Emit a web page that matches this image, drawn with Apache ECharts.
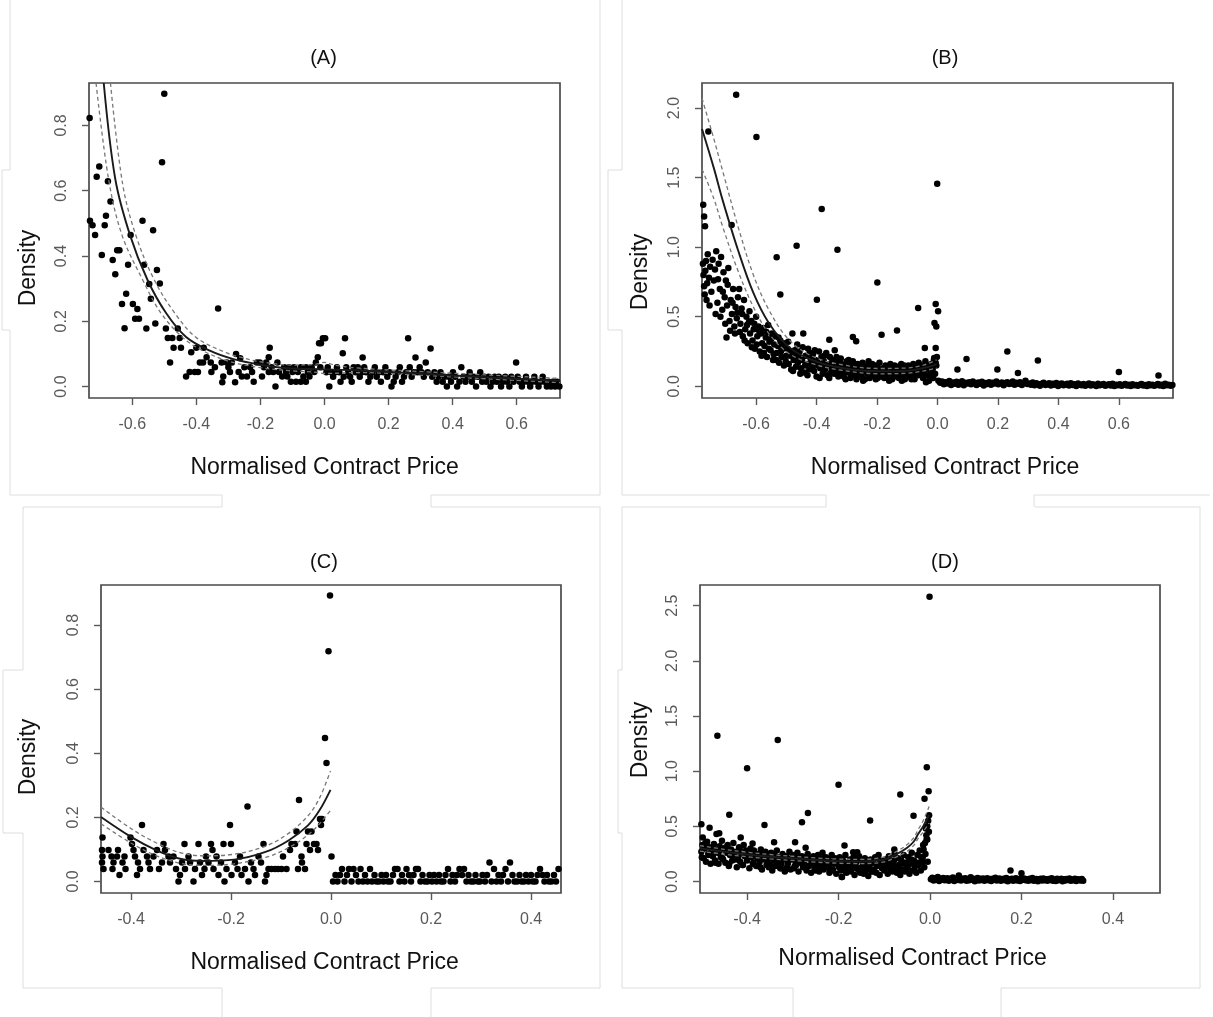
<!DOCTYPE html>
<html>
<head>
<meta charset="utf-8">
<title>Density vs Normalised Contract Price</title>
<script src="https://cdn.jsdelivr.net/npm/echarts@6/dist/echarts.min.js"></script>
<style>
  html, body { margin: 0; padding: 0; background: #ffffff; }
  #chart { width: 1213px; height: 1017px; }
</style>
</head>
<body>
<div id="chart"></div>
<script>
// ---------- tick values ----------
const xTicksAB = [-0.6, -0.4, -0.2, 0.0, 0.2, 0.4, 0.6];
const xTicksCD = [-0.4, -0.2, 0.0, 0.2, 0.4];
const yTicksA = [0.0, 0.2, 0.4, 0.6, 0.8];
const yTicksB = [0.0, 0.5, 1.0, 1.5, 2.0];
const yTicksC = [0.0, 0.2, 0.4, 0.6, 0.8];
const yTicksD = [0.0, 0.5, 1.0, 1.5, 2.0, 2.5];
const panelTitles = ['(A)', '(B)', '(C)', '(D)'];

// ---------- panel A: observed densities ----------
const scatterA = [
  [-0.733,0.823],[-0.500,0.897],[-0.507,0.687],[-0.703,0.674],[-0.711,0.643],[-0.676,0.629],[-0.668,0.567],
  [-0.732,0.508],[-0.724,0.494],[-0.716,0.464],[-0.686,0.494],[-0.682,0.523],[-0.695,0.403],[-0.647,0.418],
  [-0.640,0.418],[-0.661,0.388],[-0.653,0.344],[-0.605,0.464],[-0.613,0.373],[-0.568,0.508],[-0.535,0.479],
  [-0.563,0.373],[-0.523,0.357],[-0.547,0.314],[-0.514,0.316],[-0.542,0.269],[-0.619,0.284],[-0.632,0.253],
  [-0.598,0.253],[-0.584,0.238],[-0.591,0.208],[-0.579,0.208],[-0.624,0.179],[-0.556,0.178],[-0.528,0.193],
  [-0.495,0.178],[-0.489,0.149],[-0.475,0.149],[-0.452,0.149],[-0.458,0.178],[-0.471,0.119],[-0.448,0.119],
  [-0.482,0.074],[-0.416,0.105],[-0.400,0.119],[-0.377,0.119],[-0.332,0.239],[-0.389,0.074],[-0.379,0.074],
  [-0.368,0.090],[-0.432,0.031],[-0.421,0.045],[-0.405,0.045],[-0.395,0.045],[-0.353,0.045],[-0.342,0.059],
  [-0.355,0.074],[-0.321,0.074],[-0.305,0.074],[-0.289,0.074],[-0.276,0.100],[-0.263,0.087],[-0.316,0.031],
  [-0.319,0.013],[-0.279,0.013],[-0.258,0.031],[-0.242,0.031],[-0.221,0.015],[-0.232,0.059],[-0.211,0.074],
  [-0.202,0.074],[-0.189,0.059],[-0.171,0.119],[-0.174,0.090],[-0.195,0.031],[-0.174,0.045],[-0.153,0.000],
  [-0.142,0.045],[-0.126,0.059],[-0.111,0.059],[-0.095,0.059],[-0.074,0.059],[-0.058,0.059],[-0.132,0.031],
  [-0.116,0.031],[-0.105,0.015],[-0.089,0.015],[-0.074,0.015],[-0.058,0.015],[-0.047,0.031],[-0.021,0.090],
  [-0.017,0.133],[-0.011,0.133],[-0.005,0.148],[0.002,0.148],[-0.032,0.045],
  [-0.300,0.059],[-0.295,0.045],[-0.268,0.045],[-0.250,0.059],[-0.226,0.045],[-0.182,0.074],[-0.165,0.059],
  [-0.160,0.045],[-0.147,0.074],[-0.120,0.045],[-0.100,0.045],[-0.083,0.045],[-0.066,0.031],[-0.052,0.045],
  [-0.040,0.059],[-0.027,0.074],[-0.013,0.059],
  [0.006,0.044],[0.010,0.059],[0.015,0.000],[0.021,0.044],[0.027,0.030],[0.033,0.044],[0.039,0.059],
  [0.046,0.044],[0.050,0.015],[0.057,0.102],[0.064,0.148],[0.060,0.030],[0.068,0.059],[0.074,0.044],
  [0.080,0.030],[0.085,0.015],[0.091,0.059],[0.097,0.044],[0.104,0.059],[0.110,0.030],[0.119,0.089],
  [0.116,0.044],[0.124,0.059],[0.130,0.044],[0.137,0.015],[0.143,0.030],[0.150,0.044],[0.157,0.059],
  [0.163,0.030],[0.170,0.044],[0.176,0.015],[0.183,0.044],[0.190,0.059],[0.196,0.030],[0.203,0.044],
  [0.209,0.000],[0.216,0.015],[0.222,0.030],[0.229,0.044],[0.235,0.059],[0.242,0.015],[0.248,0.030],
  [0.255,0.044],[0.261,0.148],[0.266,0.059],[0.272,0.030],[0.279,0.044],[0.284,0.089],[0.290,0.044],
  [0.297,0.059],[0.303,0.044],[0.310,0.030],[0.316,0.074],[0.322,0.044],[0.331,0.117],[0.336,0.030],
  [0.343,0.044],[0.350,0.015],[0.356,0.030],[0.362,0.044],[0.369,0.015],[0.375,0.030],[0.382,0.000],
  [0.388,0.030],[0.395,0.015],[0.401,0.044],[0.408,0.030],[0.414,0.000],[0.421,0.015],[0.427,0.059],
  [0.434,0.030],[0.440,0.015],[0.447,0.030],[0.453,0.044],[0.460,0.015],[0.466,0.030],[0.473,0.000],
  [0.479,0.030],[0.486,0.044],[0.492,0.015],[0.499,0.030],[0.505,0.015],[0.512,0.030],[0.518,0.000],
  [0.525,0.015],[0.531,0.030],[0.538,0.015],[0.544,0.030],[0.551,0.000],[0.557,0.015],[0.564,0.030],
  [0.570,0.015],[0.577,0.000],[0.583,0.030],[0.590,0.015],[0.598,0.074],[0.603,0.030],[0.609,0.015],
  [0.616,0.000],[0.622,0.015],[0.629,0.030],[0.635,0.015],[0.642,0.000],[0.648,0.015],[0.655,0.030],
  [0.661,0.015],[0.668,0.000],[0.674,0.015],[0.681,0.030],[0.687,0.015],[0.694,0.000],[0.700,0.015],
  [0.707,0.000],[0.713,0.015],[0.720,0.000],[0.726,0.015],[0.733,0.000]
];
const fitA = [[-0.689,0.93],[-0.653,0.636],[-0.607,0.464],[-0.553,0.328],[-0.495,0.226],[-0.432,0.152],
  [-0.358,0.110],[-0.284,0.084],[-0.200,0.067],[-0.116,0.056],[-0.011,0.053],[0.100,0.050],[0.200,0.045],
  [0.300,0.040],[0.400,0.034],[0.500,0.029],[0.600,0.024],[0.735,0.018]];
const upperA = [[-0.668,0.93],[-0.630,0.620],[-0.589,0.464],[-0.532,0.328],[-0.468,0.226],[-0.400,0.150],
  [-0.305,0.103],[-0.263,0.090],[-0.200,0.076],[-0.100,0.066],[-0.030,0.068],[0.000,0.074],[0.030,0.066],
  [0.100,0.057],[0.300,0.046],[0.500,0.036],[0.735,0.025]];
const lowerA = [[-0.713,0.93],[-0.674,0.636],[-0.632,0.464],[-0.568,0.328],[-0.511,0.226],[-0.442,0.150],
  [-0.380,0.110],[-0.300,0.078],[-0.200,0.058],[-0.100,0.048],[-0.030,0.044],[0.000,0.040],[0.100,0.043],
  [0.300,0.035],[0.500,0.024],[0.735,0.012]];

// ---------- panel B ----------
const scatterB = [
  [-0.666,2.096],[-0.599,1.792],[-0.001,1.456],[-0.383,1.274],[-0.466,1.011],[-0.331,0.982],[-0.532,0.927],
  [-0.199,0.747],[-0.520,0.659],[-0.399,0.623],[-0.064,0.563],[-0.006,0.592],[0.002,0.540],[-0.010,0.455],
  [-0.004,0.430],[-0.006,0.275],[-0.042,0.275],[-0.280,0.354],[-0.269,0.323],[-0.185,0.371],[-0.134,0.402],
  [-0.358,0.335],[-0.758,1.832],[-0.775,1.305],[-0.772,1.220],[-0.769,1.150],[-0.681,1.160],[-0.011,0.203],
  [0.066,0.120],[0.096,0.197],[0.198,0.120],[0.231,0.251],[0.266,0.096],[0.332,0.185],[0.600,0.103],[0.731,0.077],
  [-0.776,0.88],[-0.772,0.72],[-0.768,0.83],[-0.764,0.62],[-0.760,0.95],[-0.756,0.78],[-0.752,0.86],[-0.748,0.68],[-0.744,0.91],[-0.740,0.76],
  [-0.774,0.80],[-0.770,0.66],[-0.762,0.74],[-0.754,0.58],[-0.766,0.90],
  [-0.736,0.84],[-0.732,0.97],[-0.728,0.60],[-0.724,0.88],[-0.720,0.70],[-0.716,0.93],[-0.712,0.55],[-0.708,0.82],[-0.704,0.64],[-0.700,0.76],
  [-0.734,0.52],[-0.726,0.77],[-0.718,0.50],[-0.710,0.68],[-0.702,0.45],
  [-0.698,0.35],[-0.696,0.58],[-0.692,0.85],[-0.688,0.47],[-0.684,0.62],[-0.680,0.52],[-0.676,0.70],[-0.672,0.43],[-0.668,0.57],[-0.664,0.49],[-0.660,0.64],
  [-0.694,0.73],[-0.686,0.40],[-0.678,0.60],[-0.670,0.38],[-0.662,0.53],
  [-0.656,0.70],[-0.652,0.45],[-0.648,0.56],[-0.644,0.36],[-0.640,0.62],[-0.636,0.41],[-0.632,0.50],[-0.628,0.31],[-0.624,0.46],[-0.620,0.38],
  [-0.654,0.39],[-0.646,0.52],[-0.638,0.33],[-0.630,0.44],[-0.622,0.54],
  [-0.616,0.47],[-0.612,0.33],[-0.608,0.41],[-0.604,0.27],[-0.600,0.50],[-0.596,0.36],[-0.592,0.43],[-0.588,0.25],[-0.584,0.38],[-0.580,0.31],
  [-0.614,0.28],[-0.606,0.45],[-0.598,0.30],[-0.590,0.40],[-0.582,0.22],
  [-0.576,0.42],[-0.572,0.29],[-0.568,0.35],[-0.564,0.21],[-0.560,0.44],[-0.556,0.32],[-0.552,0.26],[-0.548,0.38],[-0.544,0.19],[-0.540,0.30],
  [-0.574,0.24],[-0.566,0.39],[-0.558,0.27],[-0.550,0.34],[-0.542,0.23],
  [-0.536,0.36],[-0.532,0.24],[-0.528,0.29],[-0.524,0.17],[-0.520,0.33],[-0.516,0.21],[-0.512,0.27],[-0.508,0.15],[-0.504,0.31],[-0.500,0.22],
  [-0.534,0.19],[-0.526,0.35],[-0.518,0.25],[-0.510,0.30],[-0.502,0.18],
  [-0.496,0.27],[-0.492,0.16],[-0.488,0.22],[-0.484,0.12],[-0.480,0.38],[-0.476,0.19],[-0.472,0.26],[-0.468,0.14],[-0.464,0.30],[-0.460,0.21],
  [-0.494,0.32],[-0.486,0.25],[-0.478,0.11],[-0.470,0.23],[-0.462,0.17],
  [-0.456,0.25],[-0.452,0.13],[-0.448,0.19],[-0.444,0.38],[-0.440,0.10],[-0.436,0.22],[-0.432,0.16],[-0.428,0.27],[-0.424,0.12],[-0.420,0.20],
  [-0.454,0.09],[-0.446,0.28],[-0.438,0.15],[-0.430,0.08],[-0.422,0.24],
  [-0.416,0.17],[-0.412,0.23],[-0.408,0.11],[-0.404,0.19],[-0.400,0.07],[-0.396,0.15],[-0.392,0.25],[-0.388,0.13],[-0.384,0.21],[-0.380,0.09],
  [-0.414,0.14],[-0.406,0.26],[-0.398,0.18],[-0.390,0.06],[-0.382,0.16],
  [-0.376,0.18],[-0.372,0.12],[-0.368,0.24],[-0.364,0.08],[-0.360,0.16],[-0.356,0.21],[-0.352,0.10],[-0.348,0.19],[-0.344,0.14],[-0.340,0.26],
  [-0.374,0.22],[-0.366,0.15],[-0.358,0.06],[-0.350,0.13],[-0.342,0.09],
  [-0.336,0.11],[-0.332,0.17],[-0.328,0.07],[-0.324,0.14],[-0.320,0.20],[-0.316,0.09],[-0.312,0.15],[-0.308,0.12],[-0.304,0.05],[-0.300,0.18],
  [-0.334,0.21],[-0.326,0.10],[-0.318,0.16],[-0.310,0.07],[-0.302,0.13],
  [-0.296,0.10],[-0.292,0.15],[-0.288,0.06],[-0.284,0.12],[-0.280,0.18],[-0.276,0.08],[-0.272,0.13],[-0.268,0.05],[-0.264,0.16],[-0.260,0.10],
  [-0.294,0.19],[-0.286,0.09],[-0.278,0.14],[-0.270,0.11],[-0.262,0.07],
  [-0.256,0.13],[-0.252,0.07],[-0.248,0.17],[-0.244,0.10],[-0.240,0.05],[-0.236,0.14],[-0.232,0.09],[-0.228,0.18],[-0.224,0.06],[-0.220,0.12],
  [-0.254,0.10],[-0.246,0.04],[-0.238,0.11],[-0.230,0.15],[-0.222,0.08],
  [-0.216,0.16],[-0.212,0.08],[-0.208,0.12],[-0.204,0.05],[-0.200,0.14],[-0.196,0.10],[-0.192,0.17],[-0.188,0.07],[-0.184,0.11],[-0.180,0.13],
  [-0.214,0.10],[-0.206,0.15],[-0.198,0.06],[-0.190,0.12],[-0.182,0.09],
  [-0.176,0.06],[-0.172,0.15],[-0.168,0.10],[-0.164,0.12],[-0.160,0.04],[-0.156,0.16],[-0.152,0.09],[-0.148,0.13],[-0.144,0.07],[-0.140,0.11],
  [-0.174,0.11],[-0.166,0.08],[-0.158,0.14],[-0.150,0.05],[-0.142,0.15],
  [-0.136,0.09],[-0.132,0.14],[-0.128,0.06],[-0.124,0.12],[-0.120,0.16],[-0.116,0.08],[-0.112,0.11],[-0.108,0.05],[-0.104,0.13],[-0.100,0.10],
  [-0.134,0.12],[-0.126,0.10],[-0.118,0.04],[-0.110,0.15],[-0.102,0.07],
  [-0.096,0.15],[-0.092,0.07],[-0.088,0.12],[-0.084,0.09],[-0.080,0.16],[-0.076,0.05],[-0.072,0.11],[-0.068,0.13],[-0.064,0.08],[-0.060,0.14],
  [-0.094,0.10],[-0.086,0.05],[-0.078,0.12],[-0.070,0.09],[-0.062,0.17],
  [-0.056,0.10],[-0.052,0.15],[-0.048,0.06],[-0.044,0.12],[-0.040,0.18],[-0.036,0.08],[-0.032,0.13],[-0.028,0.04],[-0.024,0.11],[-0.020,0.16],
  [-0.054,0.13],[-0.046,0.09],[-0.038,0.03],[-0.030,0.15],[-0.022,0.07],
  [-0.016,0.12],[-0.012,0.19],[-0.008,0.09],[-0.004,0.15],[-0.002,0.21],[-0.014,0.06],[-0.006,0.17],
  [0.003,0.040],[0.009,0.025],[0.015,0.035],[0.021,0.015],[0.027,0.030],[0.033,0.020],[0.039,0.038],[0.045,0.010],[0.051,0.028],[0.057,0.018],
  [0.063,0.032],[0.069,0.012],[0.075,0.024],[0.081,0.036],[0.087,0.008],[0.093,0.026],[0.099,0.020],[0.105,0.030],[0.111,0.014],[0.117,0.034],
  [0.123,0.022],[0.129,0.010],[0.135,0.028],[0.141,0.018],[0.147,0.032],[0.153,0.006],[0.159,0.024],[0.165,0.016],[0.171,0.030],[0.177,0.012],
  [0.183,0.026],[0.189,0.020],[0.195,0.035],[0.201,0.014],[0.207,0.022],[0.213,0.028],[0.219,0.008],[0.225,0.024],[0.231,0.030],[0.237,0.016],
  [0.243,0.020],[0.249,0.034],[0.255,0.012],[0.261,0.026],[0.267,0.018],[0.273,0.030],[0.279,0.010],[0.285,0.024],[0.291,0.040],[0.297,0.016],
  [0.303,0.020],[0.309,0.012],[0.315,0.028],[0.321,0.008],[0.327,0.022],[0.333,0.015],[0.339,0.004],[0.345,0.018],[0.351,0.026],[0.357,0.010],
  [0.363,0.014],[0.369,0.022],[0.375,0.006],[0.381,0.018],[0.387,0.012],[0.393,0.024],[0.399,0.002],[0.405,0.016],[0.411,0.020],[0.417,0.008],
  [0.423,0.012],[0.429,0.018],[0.435,0.005],[0.441,0.022],[0.447,0.010],[0.453,0.015],[0.459,0.003],[0.465,0.020],[0.471,0.012],[0.477,0.008],
  [0.483,0.016],[0.489,0.004],[0.495,0.012],[0.501,0.020],[0.507,0.006],[0.513,0.014],[0.519,0.010],[0.525,0.002],[0.531,0.018],[0.537,0.008],
  [0.543,0.012],[0.549,0.016],[0.555,0.004],[0.561,0.010],[0.567,0.014],[0.573,0.006],[0.579,0.018],[0.585,0.002],[0.591,0.012],[0.597,0.008],
  [0.603,0.014],[0.609,0.004],[0.615,0.010],[0.621,0.016],[0.627,0.006],[0.633,0.012],[0.639,0.002],[0.645,0.014],[0.651,0.008],[0.657,0.010],
  [0.663,0.004],[0.669,0.012],[0.675,0.016],[0.681,0.006],[0.687,0.010],[0.693,0.002],[0.699,0.014],[0.705,0.008],[0.711,0.012],[0.717,0.004],
  [0.723,0.010],[0.729,0.016],[0.735,0.006],[0.741,0.012],[0.747,0.002],[0.753,0.018],[0.759,0.008],[0.765,0.012],[0.771,0.004],[0.777,0.010]
];
const fitB = [[-0.779,1.85],[-0.740,1.57],[-0.711,1.34],[-0.660,0.98],[-0.609,0.671],[-0.558,0.455],[-0.494,0.287],
  [-0.418,0.192],[-0.316,0.132],[-0.189,0.108],[-0.100,0.112],[-0.061,0.125],[-0.030,0.140],[-0.003,0.160]];
const upperB = [[-0.779,2.07],[-0.740,1.78],[-0.711,1.55],[-0.660,1.15],[-0.609,0.80],[-0.558,0.55],[-0.494,0.34],
  [-0.418,0.22],[-0.316,0.155],[-0.189,0.128],[-0.100,0.132],[-0.061,0.145],[-0.030,0.165],[-0.003,0.190]];
const lowerB = [[-0.779,1.56],[-0.740,1.35],[-0.711,1.15],[-0.660,0.83],[-0.609,0.57],[-0.558,0.38],[-0.494,0.24],
  [-0.418,0.165],[-0.316,0.115],[-0.189,0.090],[-0.100,0.094],[-0.061,0.105],[-0.030,0.118],[-0.003,0.132]];

// ---------- panel C ----------
const scatterC = [
  [-0.457,0.137],[-0.458,0.098],[-0.457,0.078],[-0.458,0.059],[-0.455,0.039],
  [-0.445,0.098],[-0.439,0.078],[-0.435,0.059],[-0.437,0.039],[-0.426,0.098],[-0.428,0.078],[-0.423,0.020],
  [-0.417,0.059],[-0.413,0.078],[-0.411,0.039],
  [-0.401,0.137],[-0.398,0.117],[-0.395,0.098],[-0.392,0.078],[-0.388,0.020],[-0.386,0.059],[-0.382,0.039],
  [-0.378,0.176],[-0.375,0.098],
  [-0.368,0.078],[-0.365,0.059],[-0.362,0.039],[-0.355,0.078],[-0.348,0.098],[-0.344,0.039],[-0.338,0.059],
  [-0.335,0.117],[-0.332,0.098],
  [-0.325,0.078],[-0.322,0.059],[-0.315,0.078],[-0.310,0.039],[-0.305,0.000],[-0.302,0.020],[-0.298,0.059],
  [-0.293,0.117],[-0.292,0.039],
  [-0.285,0.078],[-0.282,0.059],[-0.275,0.000],[-0.272,0.039],[-0.265,0.117],[-0.262,0.059],[-0.258,0.020],
  [-0.253,0.039],[-0.250,0.078],[-0.245,0.059],
  [-0.240,0.117],[-0.237,0.098],[-0.235,0.039],[-0.229,0.078],[-0.225,0.020],[-0.220,0.059],[-0.215,0.117],
  [-0.213,0.000],[-0.209,0.039],[-0.202,0.176],[-0.200,0.117],[-0.199,0.020],
  [-0.192,0.059],[-0.187,0.039],[-0.182,0.078],[-0.179,0.020],[-0.172,0.039],[-0.167,0.234],[-0.165,0.000],
  [-0.160,0.059],[-0.155,0.039],[-0.152,0.020],
  [-0.145,0.078],[-0.140,0.059],[-0.135,0.117],[-0.132,0.000],[-0.129,0.020],[-0.125,0.039],[-0.119,0.039],
  [-0.112,0.039],[-0.106,0.039],
  [-0.099,0.039],[-0.096,0.078],[-0.089,0.039],[-0.082,0.098],[-0.079,0.117],[-0.072,0.117],[-0.069,0.156],
  [-0.064,0.254],[-0.066,0.039],[-0.059,0.078],[-0.058,0.059],[-0.052,0.039],
  [-0.049,0.117],[-0.046,0.156],[-0.042,0.098],[-0.039,0.156],[-0.034,0.117],[-0.029,0.117],[-0.026,0.098],
  [-0.022,0.195],[-0.020,0.176],[-0.018,0.195],
  [-0.012,0.448],[-0.009,0.370],[-0.005,0.718],[-0.002,0.892],[0.001,0.078],
  [0.004,0.000],[0.009,0.020],[0.013,0.000],[0.018,0.020],[0.022,0.039],[0.027,0.000],[0.032,0.020],[0.036,0.039],
  [0.041,0.000],[0.045,0.039],[0.050,0.020],[0.055,0.000],[0.059,0.039],[0.064,0.000],[0.068,0.020],[0.073,0.000],
  [0.078,0.039],[0.082,0.000],[0.087,0.020],[0.091,0.000],[0.096,0.000],[0.101,0.020],[0.105,0.000],[0.110,0.020],
  [0.114,0.000],[0.119,0.000],[0.124,0.020],[0.128,0.039],[0.133,0.039],[0.137,0.000],[0.142,0.020],[0.147,0.000],
  [0.151,0.039],[0.156,0.020],[0.160,0.000],[0.165,0.020],[0.170,0.039],[0.174,0.039],[0.179,0.000],[0.183,0.020],
  [0.188,0.000],[0.193,0.000],[0.197,0.020],[0.202,0.000],[0.206,0.020],[0.211,0.000],[0.216,0.020],[0.220,0.000],
  [0.225,0.000],[0.229,0.020],[0.234,0.039],[0.239,0.000],[0.243,0.020],[0.248,0.000],[0.252,0.020],[0.257,0.039],
  [0.262,0.020],[0.266,0.039],[0.271,0.000],[0.275,0.020],[0.280,0.000],[0.285,0.000],[0.289,0.020],[0.294,0.000],
  [0.298,0.000],[0.303,0.020],[0.308,0.000],[0.312,0.020],[0.317,0.059],[0.321,0.000],[0.326,0.039],[0.331,0.000],
  [0.335,0.020],[0.340,0.000],[0.344,0.020],[0.349,0.039],[0.354,0.000],[0.358,0.059],[0.363,0.020],[0.367,0.000],
  [0.372,0.000],[0.377,0.020],[0.381,0.000],[0.386,0.000],[0.390,0.020],[0.395,0.000],[0.400,0.020],[0.404,0.000],
  [0.409,0.000],[0.413,0.020],[0.418,0.039],[0.423,0.020],[0.427,0.000],[0.432,0.020],[0.436,0.000],[0.441,0.000],
  [0.446,0.020],[0.450,0.000],[0.455,0.039]
];
const fitC = [[-0.46,0.201],[-0.40,0.139],[-0.349,0.097],[-0.302,0.071],[-0.256,0.064],[-0.194,0.068],
  [-0.131,0.092],[-0.085,0.128],[-0.046,0.175],[-0.023,0.222],[-0.001,0.286]];
const upperC = [[-0.46,0.232],[-0.40,0.165],[-0.349,0.120],[-0.302,0.090],[-0.256,0.080],[-0.194,0.085],
  [-0.131,0.110],[-0.085,0.150],[-0.046,0.205],[-0.023,0.260],[-0.001,0.345]];
const lowerC = [[-0.46,0.180],[-0.40,0.120],[-0.349,0.080],[-0.302,0.057],[-0.256,0.050],[-0.194,0.055],
  [-0.131,0.075],[-0.085,0.105],[-0.046,0.145],[-0.023,0.180],[-0.001,0.222]];

// ---------- panel D ----------
const scatterD = [
  [-0.001,2.580],[-0.465,1.322],[-0.333,1.283],[-0.400,1.027],[-0.007,1.036],[-0.200,0.877],[-0.065,0.788],
  [-0.003,0.818],[-0.012,0.749],[-0.439,0.604],[-0.267,0.620],[-0.280,0.537],[-0.362,0.513],[-0.131,0.553],
  [-0.036,0.595],[-0.002,0.600],[-0.500,0.519],[-0.482,0.487],[-0.467,0.431],[-0.461,0.437],[-0.414,0.400],
  [-0.388,0.345],[-0.341,0.356],[-0.295,0.356],[-0.272,0.305],[-0.187,0.326],[-0.168,0.266],[-0.159,0.266],
  [-0.078,0.290],[-0.193,0.040],[-0.497,0.400],[-0.009,0.480],[-0.006,0.380],[-0.016,0.220],[-0.016,0.175],
  [0.176,0.100],[0.200,0.075],[0.063,0.054],
  [-0.5,0.27],[-0.4975,0.33],[-0.495,0.21],[-0.4925,0.30],[-0.49,0.18],[-0.4875,0.36],[-0.485,0.25],[-0.4825,0.31],[-0.48,0.16],[-0.4775,0.28],
  [-0.475,0.23],[-0.4725,0.34],[-0.47,0.19],[-0.4675,0.29],[-0.465,0.26],[-0.4625,0.16],[-0.46,0.32],[-0.4575,0.22],[-0.455,0.37],[-0.4525,0.20],
  [-0.45,0.30],[-0.4475,0.17],[-0.445,0.26],[-0.4425,0.33],[-0.44,0.14],[-0.4375,0.24],[-0.435,0.29],[-0.4325,0.19],[-0.43,0.35],[-0.4275,0.22],
  [-0.425,0.27],[-0.4225,0.13],[-0.42,0.21],[-0.4175,0.31],[-0.415,0.18],[-0.4125,0.25],[-0.41,0.15],[-0.4075,0.33],[-0.405,0.23],[-0.4025,0.28],
  [-0.4,0.19],[-0.3975,0.26],[-0.395,0.12],[-0.3925,0.30],[-0.39,0.22],[-0.3875,0.16],[-0.385,0.28],[-0.3825,0.24],[-0.38,0.14],[-0.3775,0.21],
  [-0.375,0.25],[-0.3725,0.18],[-0.37,0.29],[-0.3675,0.11],[-0.365,0.23],[-0.3625,0.20],[-0.36,0.27],[-0.3575,0.15],[-0.355,0.22],[-0.3525,0.13],
  [-0.35,0.21],[-0.3475,0.26],[-0.345,0.10],[-0.3425,0.19],[-0.34,0.24],[-0.3375,0.14],[-0.335,0.28],[-0.3325,0.17],[-0.33,0.22],[-0.3275,0.12],
  [-0.325,0.16],[-0.3225,0.25],[-0.32,0.20],[-0.3175,0.09],[-0.315,0.23],[-0.3125,0.13],[-0.31,0.18],[-0.3075,0.27],[-0.305,0.11],[-0.3025,0.21],
  [-0.3,0.24],[-0.2975,0.12],[-0.295,0.19],[-0.2925,0.15],[-0.29,0.26],[-0.2875,0.09],[-0.285,0.21],[-0.2825,0.17],[-0.28,0.23],[-0.2775,0.13],
  [-0.275,0.18],[-0.2725,0.22],[-0.27,0.10],[-0.2675,0.25],[-0.265,0.14],[-0.2625,0.20],[-0.26,0.08],[-0.2575,0.16],[-0.255,0.23],[-0.2525,0.12],
  [-0.25,0.19],[-0.2475,0.14],[-0.245,0.24],[-0.2425,0.09],[-0.24,0.21],[-0.2375,0.17],[-0.235,0.26],[-0.2325,0.11],[-0.23,0.15],[-0.2275,0.22],
  [-0.225,0.13],[-0.2225,0.20],[-0.22,0.08],[-0.2175,0.18],[-0.215,0.24],[-0.2125,0.11],[-0.21,0.16],[-0.2075,0.21],[-0.205,0.07],[-0.2025,0.19],
  [-0.2,0.15],[-0.1975,0.22],[-0.195,0.10],[-0.1925,0.04],[-0.19,0.18],[-0.1875,0.13],[-0.185,0.24],[-0.1825,0.08],[-0.18,0.17],[-0.1775,0.12],
  [-0.175,0.20],[-0.1725,0.09],[-0.17,0.16],[-0.1675,0.22],[-0.165,0.06],[-0.1625,0.14],[-0.16,0.19],[-0.1575,0.11],[-0.155,0.23],[-0.1525,0.08],
  [-0.15,0.13],[-0.1475,0.18],[-0.145,0.07],[-0.1425,0.21],[-0.14,0.10],[-0.1375,0.16],[-0.135,0.05],[-0.1325,0.14],[-0.13,0.20],[-0.1275,0.09],
  [-0.125,0.17],[-0.1225,0.11],[-0.12,0.22],[-0.1175,0.08],[-0.115,0.15],[-0.1125,0.24],[-0.11,0.06],[-0.1075,0.19],[-0.105,0.12],[-0.1025,0.16],
  [-0.1,0.10],[-0.0975,0.20],[-0.095,0.14],[-0.0925,0.07],[-0.09,0.23],[-0.0875,0.12],[-0.085,0.18],[-0.0825,0.09],[-0.08,0.16],[-0.0775,0.25],
  [-0.075,0.13],[-0.0725,0.08],[-0.07,0.21],[-0.0675,0.15],[-0.065,0.06],[-0.0625,0.19],[-0.06,0.11],[-0.0575,0.24],[-0.055,0.09],[-0.0525,0.17],
  [-0.05,0.12],[-0.0475,0.22],[-0.045,0.07],[-0.0425,0.16],[-0.04,0.26],[-0.0375,0.10],[-0.035,0.19],[-0.0325,0.14],[-0.03,0.08],[-0.0275,0.24],
  [-0.025,0.15],[-0.0225,0.28],[-0.02,0.10],[-0.0175,0.21],[-0.015,0.33],[-0.0125,0.13],[-0.01,0.25],[-0.0075,0.38],[-0.005,0.18],[-0.0025,0.45],
  [-0.499,0.22],[-0.491,0.35],[-0.484,0.24],[-0.476,0.29],[-0.469,0.17],[-0.461,0.27],[-0.454,0.21],[-0.446,0.31],
  [-0.439,0.16],[-0.431,0.25],[-0.424,0.20],[-0.416,0.29],[-0.409,0.15],[-0.401,0.24],[-0.394,0.27],[-0.386,0.17],
  [-0.379,0.23],[-0.371,0.13],[-0.364,0.26],[-0.356,0.19],[-0.349,0.15],[-0.341,0.23],[-0.334,0.18],[-0.326,0.12],
  [-0.319,0.22],[-0.311,0.16],[-0.304,0.20],[-0.296,0.14],[-0.289,0.22],[-0.281,0.17],[-0.274,0.13],[-0.266,0.21],
  [-0.259,0.16],[-0.251,0.10],[-0.244,0.18],[-0.236,0.13],[-0.229,0.21],[-0.221,0.15],[-0.214,0.10],[-0.206,0.17],
  [-0.199,0.13],[-0.191,0.20],[-0.184,0.09],[-0.176,0.15],[-0.169,0.12],[-0.161,0.18],[-0.154,0.10],[-0.146,0.15],
  [-0.139,0.12],[-0.131,0.19],[-0.124,0.09],[-0.116,0.14],[-0.109,0.18],[-0.101,0.12],[-0.094,0.15],[-0.086,0.11],
  [-0.079,0.19],[-0.071,0.13],[-0.064,0.10],[-0.056,0.16],[-0.049,0.13],[-0.041,0.20],[-0.034,0.11],[-0.026,0.17],
  [-0.019,0.22],[-0.014,0.29],[-0.011,0.35],[-0.008,0.42],[-0.006,0.50],[-0.004,0.55],
  [0.002,0.020],[0.005,0.035],[0.008,0.010],[0.011,0.028],[0.014,0.015],[0.017,0.040],[0.020,0.005],[0.023,0.025],
  [0.026,0.018],[0.029,0.032],[0.032,0.012],[0.035,0.022],[0.038,0.030],[0.041,0.008],[0.044,0.026],[0.047,0.016],
  [0.050,0.036],[0.053,0.004],[0.056,0.020],[0.059,0.028],[0.062,0.014],[0.065,0.034],[0.068,0.010],[0.071,0.024],
  [0.074,0.018],[0.077,0.030],[0.080,0.006],[0.083,0.022],[0.086,0.012],[0.089,0.038],[0.092,0.016],[0.095,0.026],
  [0.098,0.002],[0.101,0.020],[0.104,0.032],[0.107,0.010],[0.110,0.024],[0.113,0.014],[0.116,0.028],[0.119,0.008],
  [0.122,0.018],[0.125,0.030],[0.128,0.012],[0.131,0.022],[0.134,0.004],[0.137,0.026],[0.140,0.016],[0.143,0.034],
  [0.146,0.010],[0.149,0.020],[0.152,0.028],[0.155,0.006],[0.158,0.018],[0.161,0.024],[0.164,0.012],[0.167,0.032],
  [0.170,0.002],[0.173,0.020],[0.176,0.014],[0.179,0.026],[0.182,0.008],[0.185,0.022],[0.188,0.030],[0.191,0.010],
  [0.194,0.018],[0.197,0.004],[0.200,0.024],[0.203,0.016],[0.206,0.028],[0.209,0.012],[0.212,0.020],[0.215,0.006],
  [0.218,0.026],[0.221,0.014],[0.224,0.032],[0.227,0.008],[0.230,0.018],[0.233,0.022],[0.236,0.002],[0.239,0.016],
  [0.242,0.024],[0.245,0.010],[0.248,0.028],[0.251,0.012],[0.254,0.020],[0.257,0.006],[0.260,0.022],[0.263,0.014],
  [0.266,0.030],[0.269,0.008],[0.272,0.018],[0.275,0.004],[0.278,0.024],[0.281,0.012],[0.284,0.016],[0.287,0.026],
  [0.290,0.002],[0.293,0.020],[0.296,0.010],[0.299,0.022],[0.302,0.014],[0.305,0.028],[0.308,0.006],[0.311,0.018],
  [0.314,0.012],[0.317,0.024],[0.320,0.004],[0.323,0.020],[0.326,0.016],[0.329,0.010],[0.332,0.022],[0.335,0.008]
];
const fitD = [[-0.503,0.300],[-0.45,0.270],[-0.40,0.245],[-0.35,0.225],[-0.30,0.210],[-0.25,0.195],[-0.20,0.185],
  [-0.15,0.182],[-0.10,0.200],[-0.07,0.255],[-0.05,0.305],[-0.035,0.365],[-0.026,0.430],[-0.015,0.500],[-0.002,0.605]];
const upperD = [[-0.503,0.325],[-0.45,0.292],[-0.40,0.266],[-0.35,0.245],[-0.30,0.229],[-0.25,0.214],[-0.20,0.204],
  [-0.15,0.201],[-0.10,0.222],[-0.07,0.280],[-0.05,0.335],[-0.035,0.400],[-0.026,0.470],[-0.015,0.550],[-0.002,0.680]];
const lowerD = [[-0.503,0.275],[-0.45,0.248],[-0.40,0.224],[-0.35,0.205],[-0.30,0.191],[-0.25,0.176],[-0.20,0.166],
  [-0.15,0.163],[-0.10,0.178],[-0.07,0.230],[-0.05,0.275],[-0.035,0.330],[-0.026,0.390],[-0.015,0.450],[-0.002,0.530]];

// ---------- layout of the four plot regions ----------
const gridRects = [
  { left: 89,  top: 83,  width: 471, height: 315 },
  { left: 702, top: 83,  width: 471, height: 315 },
  { left: 101, top: 585, width: 460, height: 308 },
  { left: 700, top: 585, width: 460, height: 308 }
];
const xRanges = [[-0.735, 0.735], [-0.779, 0.779], [-0.46, 0.46], [-0.503, 0.503]];
const yRanges = [[-0.035, 0.93], [-0.084, 2.18], [-0.036, 0.925], [-0.104, 2.687]];
const xTickSets = [xTicksAB, xTicksAB, xTicksCD, xTicksCD];
const yTickSets = [yTicksA, yTicksB, yTicksC, yTicksD];
const scatterSets = [scatterA, scatterB, scatterC, scatterD];
const fitSets = [fitA, fitB, fitC, fitD];
const upperSets = [upperA, upperB, upperC, upperD];
const lowerSets = [lowerA, lowerB, lowerC, lowerD];

const FONT = '"Liberation Sans", Arial, Helvetica, sans-serif';
const tickLabelStyle = { color: '#595959', fontSize: 16, fontFamily: FONT };
const fmt = v => (Math.abs(v) < 1e-9 ? 0 : v).toFixed(1);

const grid = gridRects.map(r => Object.assign({}, r, {
  show: true, borderColor: '#4a4a4a', borderWidth: 1.7,
  backgroundColor: 'transparent', containLabel: false, outerBoundsMode: 'none'
}));

const xAxis = gridRects.map((r, i) => ({
  gridIndex: i, type: 'value', position: 'bottom',
  min: xRanges[i][0], max: xRanges[i][1],
  axisLine: { show: false, onZero: false },
  splitLine: { show: false },
  axisTick: { show: true, length: 7, customValues: xTickSets[i], lineStyle: { color: '#5a5a5a', width: 1.4 } },
  axisLabel: Object.assign({ customValues: xTickSets[i], formatter: fmt, margin: 19 }, tickLabelStyle)
}));

const yAxis = gridRects.map((r, i) => ({
  gridIndex: i, type: 'value', position: 'left',
  min: yRanges[i][0], max: yRanges[i][1],
  axisLine: { show: false, onZero: false },
  splitLine: { show: false },
  axisTick: { show: true, length: 7, customValues: yTickSets[i], lineStyle: { color: '#5a5a5a', width: 1.4 } },
  axisLabel: Object.assign({ customValues: yTickSets[i], formatter: fmt, margin: 19, rotate: 90 }, tickLabelStyle)
}));

const series = [];
gridRects.forEach((r, i) => {
  series.push({
    type: 'scatter', xAxisIndex: i, yAxisIndex: i, data: scatterSets[i],
    symbol: 'circle', symbolSize: 6.5, itemStyle: { color: '#000000', opacity: 1 }, z: 2, silent: true
  });
  [lowerSets[i], upperSets[i]].forEach(band => series.push({
    type: 'line', xAxisIndex: i, yAxisIndex: i, data: band, smooth: 0.35,
    symbol: 'none', lineStyle: { color: '#777777', width: 1.3, type: [4, 3] }, z: 3, silent: true
  }));
  series.push({
    type: 'line', xAxisIndex: i, yAxisIndex: i, data: fitSets[i], smooth: 0.35,
    symbol: 'none', lineStyle: { color: '#1a1a1a', width: 1.9 }, z: 4, silent: true
  });
});

// ---------- titles, axis captions and the faint panel frames ----------
const textEl = (txt, x, y, size, rot) => ({
  type: 'text', x: x, y: y, rotation: rot || 0, silent: true,
  style: { text: txt, fontSize: size, fontFamily: FONT, fill: '#111', align: 'center', verticalAlign: 'middle' }
});
const titlePos = [[323.5, 58], [945, 58], [324, 562], [945, 562]];
const xCapPos = [[324.6, 468], [945, 468], [324.6, 963], [912.5, 959]];
const yCapPos = [[29, 268], [641, 272], [29, 757], [641, 740]];
const frameLines = [
  [[10,0],[10,170],[2,170],[2,330],[10,330],[10,495],[222,495],[222,507]],
  [[431,507],[431,495],[600,495],[600,0]],
  [[622,0],[622,170],[608,170],[608,330],[622,330],[622,495],[826,495],[826,507]],
  [[1034,507],[1034,495],[1210,495]],
  [[222,507],[23,507],[23,670],[3,670],[3,833],[23,833],[23,988],[222,988],[222,1017]],
  [[431,507],[600,507],[600,988],[431,988],[431,1017]],
  [[826,507],[622,507],[622,670],[618,670],[618,833],[622,833],[622,988],[793,988],[793,1017]],
  [[1035,507],[1200,507],[1200,988],[1001,988],[1001,1017]]
];
const graphic = [];
frameLines.forEach(pts => graphic.push({
  type: 'polyline', silent: true, z: -10, shape: { points: pts },
  style: { stroke: '#dedede', lineWidth: 1, fill: null }
}));
panelTitles.forEach((t, i) => {
  graphic.push(textEl(t, titlePos[i][0], titlePos[i][1], 20));
  graphic.push(textEl('Normalised Contract Price', xCapPos[i][0], xCapPos[i][1], 23));
  graphic.push(textEl('Density', yCapPos[i][0], yCapPos[i][1], 23, Math.PI / 2));
});

const chart = echarts.init(document.getElementById('chart'), null, { renderer: 'canvas' });
chart.setOption({
  animation: false,
  backgroundColor: '#ffffff',
  grid: grid,
  xAxis: xAxis,
  yAxis: yAxis,
  series: series,
  graphic: graphic
});
</script>
</body>
</html>
